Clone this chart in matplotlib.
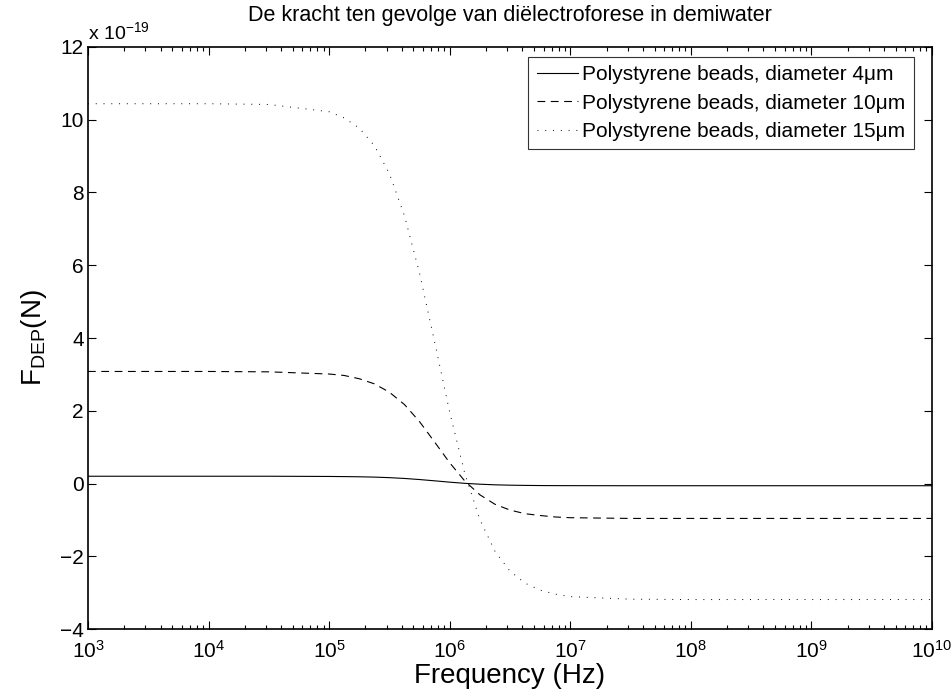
import numpy as np
from matplotlib import pyplot as plt
from matplotlib.ticker import FixedLocator, NullFormatter, FuncFormatter

plt.rcParams['font.family'] = ['Liberation Sans', 'DejaVu Sans']
plt.rcParams['mathtext.fontset'] = 'custom'
plt.rcParams['mathtext.rm'] = 'Liberation Sans'
plt.rcParams['mathtext.it'] = 'Liberation Sans:italic'

# frequency sample points (log10 Hz)
log_freq = [3.0, 3.5, 4.0, 4.5, 5.0, 5.125, 5.25, 5.375, 5.5, 5.625, 5.75, 5.875,
            6.0, 6.125, 6.25, 6.375, 6.5, 6.625, 6.75, 6.875, 7.0, 7.5, 8.0, 9.0, 10.0]

# force in units of 1e-19 N
f_4um = [0.20, 0.20, 0.20, 0.20, 0.194, 0.190, 0.185, 0.176, 0.161, 0.139, 0.109, 0.074,
         0.037, 0.005, -0.019, -0.036, -0.046, -0.052, -0.056, -0.058, -0.059, -0.061,
         -0.061, -0.061, -0.061]
f_10um = [3.08, 3.08, 3.08, 3.07, 3.01, 2.97, 2.88, 2.74, 2.51, 2.17, 1.70, 1.14,
          0.57, 0.07, -0.31, -0.57, -0.73, -0.83, -0.88, -0.92, -0.94, -0.96,
          -0.96, -0.96, -0.96]
f_15um = [10.44, 10.44, 10.44, 10.42, 10.22, 10.05, 9.77, 9.29, 8.52, 7.36, 5.78, 3.89,
          1.96, 0.28, -0.99, -1.86, -2.41, -2.74, -2.93, -3.04, -3.11, -3.18,
          -3.19, -3.19, -3.19]

labels = ['Polystyrene beads, diameter 4μm',
          'Polystyrene beads, diameter 10μm',
          'Polystyrene beads, diameter 15μm']

x_decades = [3, 4, 5, 6, 7, 8, 9, 10]
y_ticks = [-4, -2, 0, 2, 4, 6, 8, 10, 12]

freq = 10.0 ** np.array(log_freq)
scale = 1e-19

fig = plt.figure(figsize=(9.52, 6.91), dpi=100)
ax = fig.add_axes([0.0924, 0.0897, 0.8866, 0.8423])

ax.plot(freq, np.array(f_4um) * scale, color='k', lw=0.8, ls='-', label=labels[0])
ax.plot(freq, np.array(f_10um) * scale, color='k', lw=0.8, dashes=(7, 5), label=labels[1])
ax.plot(freq, np.array(f_15um) * scale, color='k', lw=0.7, dashes=(1, 7), label=labels[2])

ax.set_xscale('log')
ax.set_xlim(1e3, 1e10)
ax.set_ylim(-4e-19, 12e-19)

majors = [10.0 ** d for d in x_decades]
minors = [m * 10.0 ** d for d in x_decades[:-1] for m in range(2, 10)]
ax.xaxis.set_major_locator(FixedLocator(majors))
ax.xaxis.set_minor_locator(FixedLocator(minors))
ax.xaxis.set_minor_formatter(NullFormatter())
ax.xaxis.set_major_formatter(FuncFormatter(lambda v, p: r'$10^{%d}$' % round(np.log10(v))))
ax.yaxis.set_major_locator(FixedLocator(np.array(y_ticks) * scale))
ax.yaxis.set_major_formatter(FuncFormatter(
    lambda v, p: ('%d' % round(v / scale)).replace('-', '\u2212')))

ax.tick_params(which='both', direction='in', top=True, right=True, labelsize=15, width=0.8)
ax.tick_params(which='major', length=6)
ax.tick_params(which='minor', length=3)
ax.tick_params(axis='x', which='major', pad=8)
ax.tick_params(axis='y', which='major', pad=3)
for s in ax.spines.values():
    s.set_linewidth(1.2)

ax.text(0.0, 1.014, r'x 10$^{-19}$', transform=ax.transAxes, fontsize=14,
        ha='left', va='baseline')
ax.set_title('De kracht ten gevolge van diëlectroforese in demiwater', fontsize=15.5, pad=19)
ax.set_xlabel('Frequency (Hz)', fontsize=20, labelpad=1)
ax.set_ylabel(r'F$_{\rm DEP}$(N)', fontsize=20, labelpad=8)

leg = ax.legend(loc='upper right', bbox_to_anchor=(0.9787, 0.9828), borderaxespad=0,
                fontsize=15, frameon=True, fancybox=False, edgecolor='k',
                handlelength=2.0, handletextpad=0.2, borderpad=0.4, labelspacing=0.45)
leg.get_frame().set_linewidth(0.8)

fig.savefig('out.png', dpi=100)
